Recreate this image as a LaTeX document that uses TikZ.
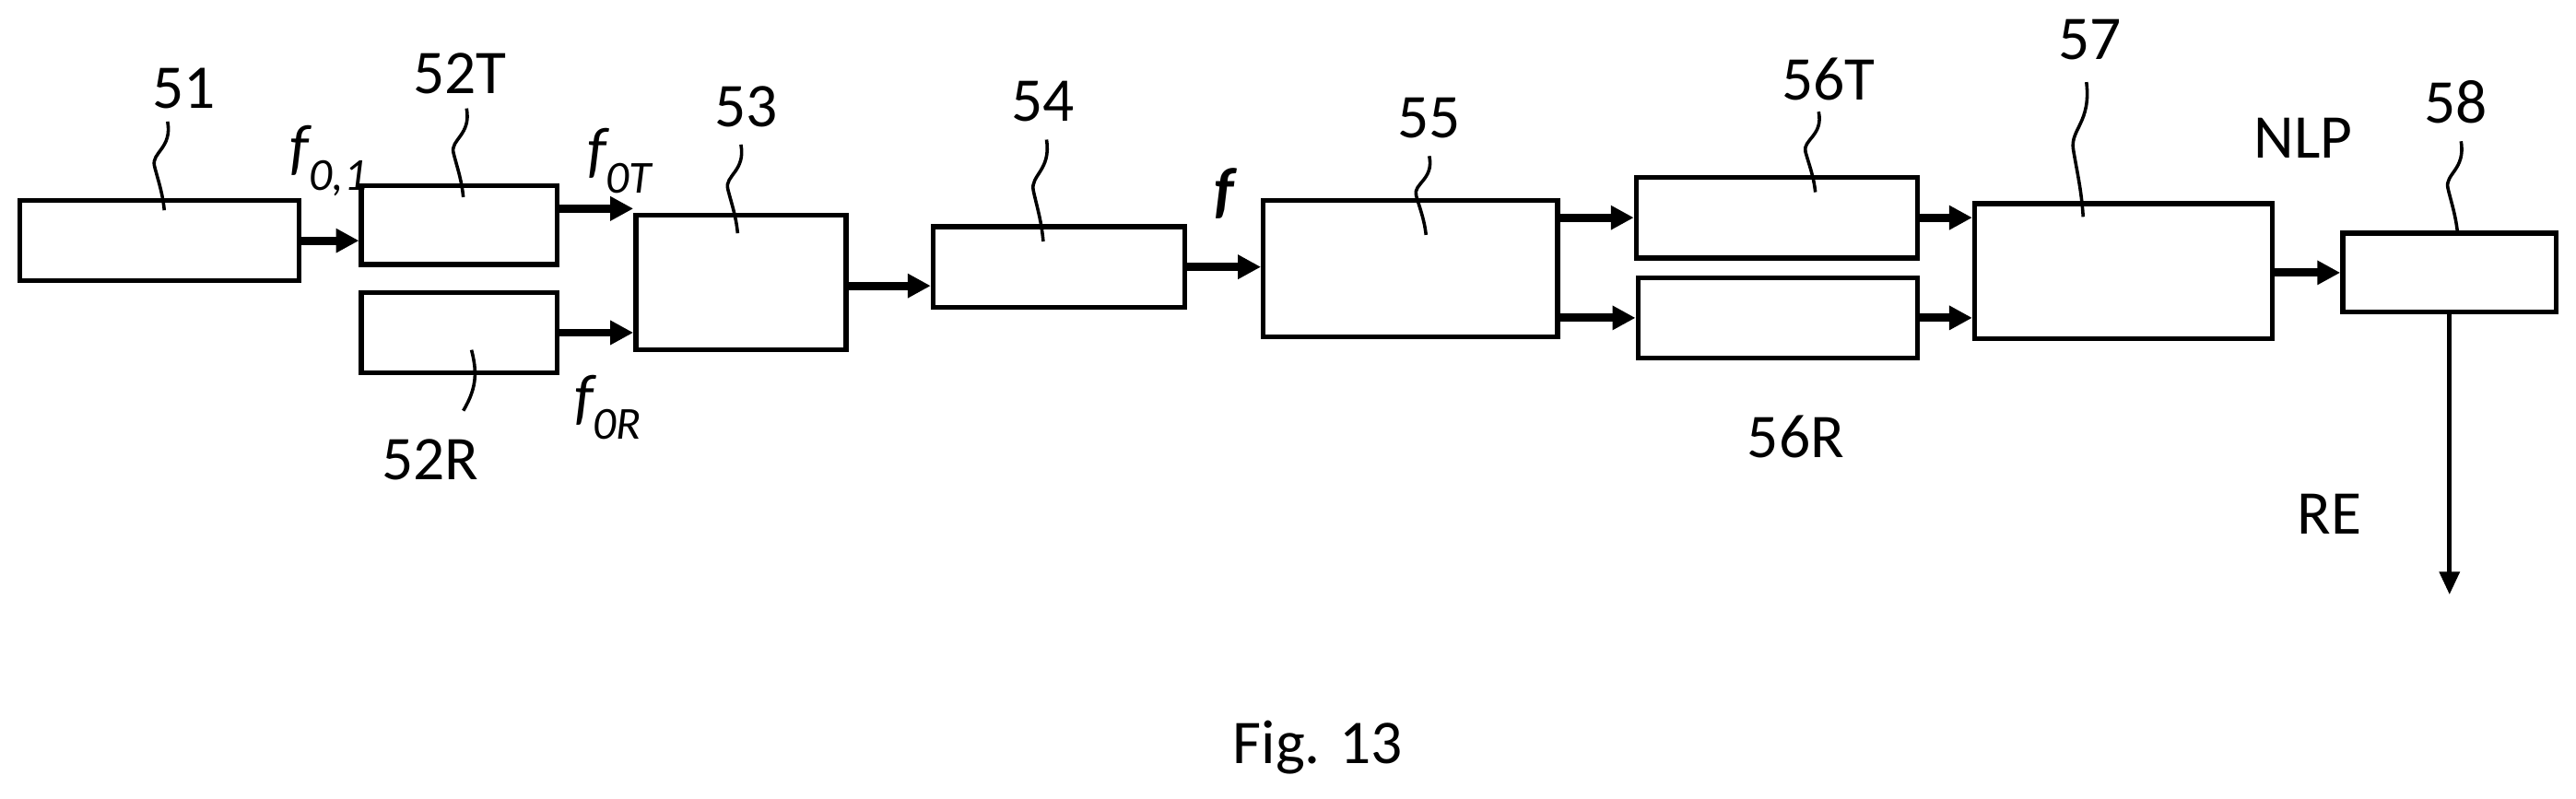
\documentclass[tikz,border=0pt]{standalone}
\usepackage{fontspec}
\setmainfont{Carlito}
\usetikzlibrary{arrows.meta, positioning}

\tikzset{
	blk/.style={draw, line width=3bp, rectangle, inner sep=0pt},
	flow/.style={line width=5bp, -{Triangle[length=14bp,width=14bp]}},
	lbl/.style={font=\fontsize{38}{42}\selectfont},
	sig/.style={font=\fontsize{38}{42}\selectfont\itshape},
	lead/.style={line width=2bp}
}
\newcommand{\sub}[1]{\raisebox{-0.35em}{\fontsize{28}{30}\selectfont #1}}
% squiggle from label down into its box
\newcommand{\wavy}[3]{\draw[lead] (#1,#2) .. controls (#1+3,#2+0.3*#3-0.3*#2) and (#1-10,#2+0.35*#3-0.35*#2) .. (#1-8,#2*0.5+#3*0.5) .. controls (#1-6,#2+0.65*#3-0.65*#2) and (#1-3,#2+0.8*#3-0.8*#2) .. (#1-2,#3);}

\begin{document}
\begin{tikzpicture}[x=1bp,y=-1bp]
	\useasboundingbox (0,0) rectangle (1568,486);

	\node (b51) [blk, minimum width=170bp, minimum height=49bp] at (97,146.5) {};
	\node (b52T) [blk, minimum width=119bp, minimum height=48bp] at (279.5,137) {};
	\node (b52R) [blk, minimum width=119bp, minimum height=49bp] at (279.5,202.5) {};
	\node (b53) [blk, minimum width=128bp, minimum height=82bp] at (451,172) {};
	\node (b54) [blk, minimum width=153bp, minimum height=49bp] at (644.5,162.5) {};
	\node (b55) [blk, minimum width=179bp, minimum height=83bp] at (858.5,163.5) {};
	\node (b56T) [blk, minimum width=171bp, minimum height=49bp] at (1081.5,132.5) {};
	\node (b56R) [blk, minimum width=170bp, minimum height=49bp] at (1082,193.5) {};
	\node (b57) [blk, minimum width=181bp, minimum height=82bp] at (1292.5,165) {};
	\node (b58) [blk, minimum width=130bp, minimum height=48bp] at (1491,166) {};
	\coordinate (out) at (1491,362);

	% reference numerals
	\node (t51) [lbl] at (112,54) {51};
	\node (t52T) [lbl] at (280,45) {52T};
	\node (t52R) [lbl] at (262,280) {52R};
	\node (t53) [lbl] at (454,65) {53};
	\node (t54) [lbl] at (635,62) {54};
	\node (t55) [lbl] at (870,72) {55};
	\node (t56T) [lbl] at (1113,48) {56T};
	\node (t56R) [lbl] at (1093,266) {56R};
	\node (t57) [lbl] at (1272,24) {57};
	\node (t58) [lbl] at (1495,62) {58};
	\node (tNLP) [lbl] at (1402,84) {NLP};
	\node (tRE) [lbl] at (1418,313) {RE};
	\node (fig) [lbl] at (802,455) {Fig. 13};

	% signals
	\node (f01) [sig] at (200,98) {f\sub{0,1}};
	\node (f0T) [sig] at (377,98) {f\sub{0T}};
	\node (f0R) [sig] at (370,248) {f\sub{0R}};
	\node (f) [sig] at (745,118) {\bfseries f};

	\wavy{102}{74}{128}
	\wavy{284}{66}{120}
	\wavy{451}{88}{142}
	\wavy{637}{85}{147}
	\wavy{870}{95}{143}
	\wavy{1107}{68}{117}
	\wavy{1270}{50}{132}
	\wavy{1498}{86}{143}
	\draw[lead] (287,213) .. controls (290,225) and (291,235) .. (282,250);

	\draw[flow] (b51.east) -- (b52T.west |- b51.east);
	\draw[flow] ([yshift=10bp]b52T.east) -- ([yshift=10bp]b52T.east -| b53.west);
	\draw[flow] (b52R.east) -- (b52R.east -| b53.west);
	\draw[flow] ([yshift=-2bp]b53.east) -- ([yshift=-2bp]b53.east -| b54.west);
	\draw[flow] (b54.east) -- (b55.west |- b54.east);
	\draw[flow] (b55.east |- b56T.center) -- (b56T.west);
	\draw[flow] (b55.east |- b56R.center) -- (b56R.west);
	\draw[flow] (b56T.east) -- (b57.west |- b56T.east);
	\draw[flow] (b56R.east) -- (b57.west |- b56R.east);
	\draw[flow] (b57.east |- b58.center) -- (b58.west);
	\draw[line width=3bp, -{Triangle[length=14bp,width=12bp]}] (b58.south) -- (out);
\end{tikzpicture}
\end{document}
